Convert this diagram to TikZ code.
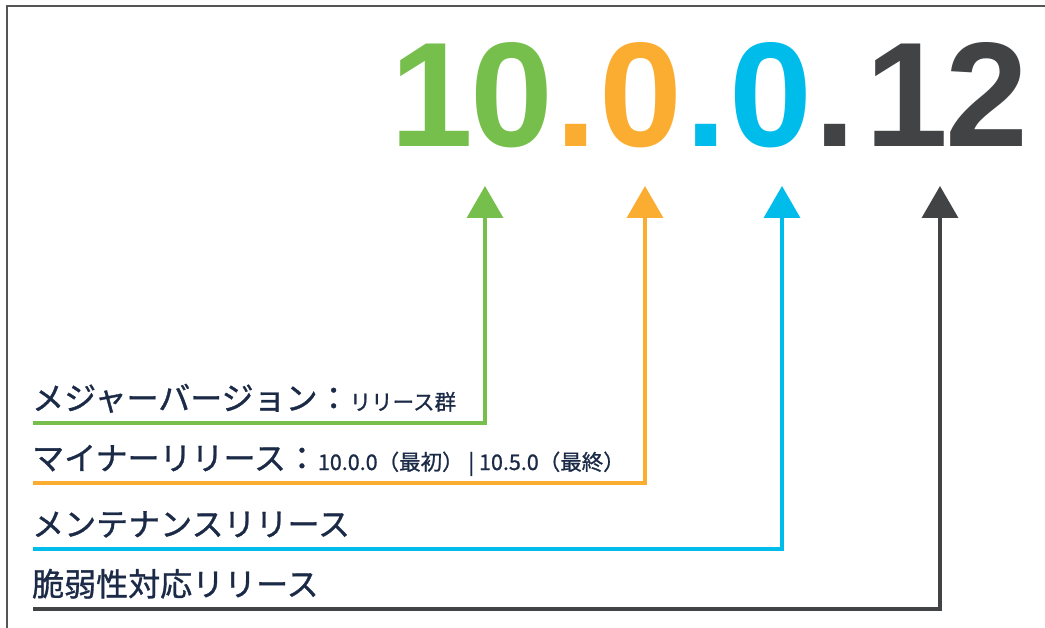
\documentclass[tikz,border=0pt]{standalone}
\usepackage{fontspec}
\setmainfont{Liberation Sans}
\newfontfamily\jpfont[FakeBold=1]{Noto Sans CJK JP}
\newfontfamily\numfont{Liberation Sans}
\usetikzlibrary{arrows.meta}
\definecolor{vgreen}{HTML}{77BF4C}
\definecolor{vorange}{HTML}{FBAD31}
\definecolor{vblue}{HTML}{00BCEB}
\definecolor{vdark}{HTML}{424345}
\definecolor{navy}{HTML}{1B2A47}
\definecolor{framegray}{HTML}{555555}
\tikzset{
  digit/.style={anchor=base, inner sep=0pt, font=\numfont\bfseries\fontsize{149}{150}\selectfont},
  label/.style={anchor=base west, inner sep=0pt, text=navy, font=\jpfont\fontsize{32}{38}\selectfont},
  conn/.style={line width=3.5pt, -{Triangle[width=36pt,length=32pt]}},
}
\begin{document}
\begin{tikzpicture}[x=1pt,y=-1pt]
\useasboundingbox (0,0) rectangle (1045,628);
% frame
\draw[framegray, line width=2pt] (1045,6.5) -- (6.5,6.5) -- (6.5,628);
% big version number
\node[digit, text=vgreen] (d1) at (432,147) {1};
\node[digit, text=vgreen] (d2) at (511.5,147) {0};
\node[digit, text=vorange] (p1) at (576,147) {.};
\node[digit, text=vorange] (d3) at (641,147) {0};
\node[digit, text=vblue] (p2) at (706,147) {.};
\node[digit, text=vblue] (d4) at (770.5,147) {0};
\node[digit, text=vdark] (p3) at (835.5,147) {.};
\node[digit, text=vdark] (d5) at (907,147) {1};
\node[digit, text=vdark] (d6) at (987,147) {2};
% labels
\node[label] (t1) at (32,410) {メジャーバージョン：\fontsize{21.5}{25}\selectfont リリース群};
\node[label] (t2) at (32,470) {マイナーリリース：\fontsize{21.5}{25}\selectfont 10.0.0（最初） | 10.5.0（最終）};
\node[label] (t3) at (32,536) {メンテナンスリリース};
\node[label] (t4) at (32,596) {脆弱性対応リリース};
% connector ends
\coordinate (s1) at (33,423);
\coordinate (s2) at (33,483);
\coordinate (s3) at (33,549);
\coordinate (s4) at (33,609);
\coordinate (a1) at (485,186);
\coordinate (a2) at (645,186);
\coordinate (a3) at (782,186);
\coordinate (a4) at (940,186);
\draw[conn, vgreen] (s1) -| (a1);
\draw[conn, vorange] (s2) -| (a2);
\draw[conn, vblue] (s3) -| (a3);
\draw[conn, vdark] (s4) -| (a4);
\end{tikzpicture}
\end{document}
